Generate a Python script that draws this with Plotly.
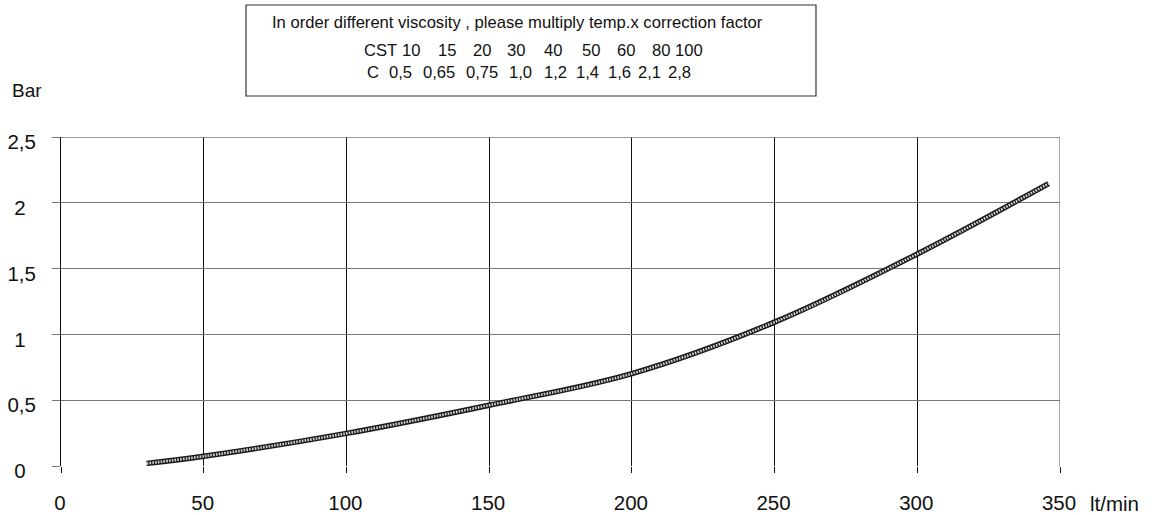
import plotly.graph_objects as go

# Pressure drop curve: flow (lt/min) vs pressure (bar)
flow = [30, 50, 100, 150, 200, 250, 300, 346]
pressure = [0.02, 0.074, 0.248, 0.462, 0.702, 1.093, 1.611, 2.146]

x_ticks = [0, 50, 100, 150, 200, 250, 300, 350]
x_tick_labels = ["0", "50", "100", "150", "200", "250", "300", "350"]
y_ticks = [0, 0.5, 1, 1.5, 2, 2.5]
y_tick_labels = ["0", "0,5", "1", "1,5", "2", "2,5"]

# Viscosity correction table
note_title = "In order different viscosity , please multiply temp.x correction factor"
cst_values = ["10", "15", "20", "30", "40", "50", "60", "80", "100"]
correction = ["0,5", "0,65", "0,75", "1,0", "1,2", "1,4", "1,6", "2,1", "2,8"]

# layout geometry (pixels)
W, H = 1152, 515
L, R, T, B = 61, 92, 137, 49
PW, PH = W - L - R, H - T - B
cst_px = [411, 447, 482, 516, 553, 591, 626, 661, 689]
corr_px = [400, 438.5, 481.5, 520, 555, 587, 619, 649, 679]


def px_x(p):
    return (p - L) / PW


def px_y(p):
    return (H - B - p) / PH


FONT = "Liberation Sans, Arial, sans-serif"

fig = go.Figure()

# hatched curve: dark outline with a light dashed core
fig.add_trace(go.Scatter(x=flow, y=pressure, mode="lines",
                         line=dict(color="#1a1a1a", width=5.5, shape="spline"),
                         hoverinfo="skip", showlegend=False))
fig.add_trace(go.Scatter(x=flow, y=pressure, mode="lines",
                         line=dict(color="#d4d4d4", width=2.6, shape="spline", dash="1.6px,1.2px"),
                         hoverinfo="skip", showlegend=False))

pad = "\u2002"
y_text = [t if "," in t else t + pad for t in y_tick_labels]

fig.update_xaxes(range=[0, 350], tickmode="array", tickvals=x_ticks, ticktext=x_tick_labels,
                 automargin=False,
                 showgrid=True, gridcolor="#111111", gridwidth=1,
                 ticks="outside", ticklen=6, tickcolor="#111111", tickwidth=1,
                 ticklabelstandoff=12, ticklabelshift=-1,
                 zeroline=False, showline=False,
                 tickfont=dict(family=FONT, size=20.5, color="#111111"))
fig.update_yaxes(range=[0, 2.5], tickmode="array", tickvals=y_ticks, ticktext=y_text,
                 automargin=False,
                 showgrid=True, gridcolor="#777777", gridwidth=1.3,
                 ticks="outside", ticklen=8, tickcolor="#777777", tickwidth=1.3,
                 ticklabelstandoff=12, ticklabelshift=5,
                 zeroline=False, showline=True, linecolor="#111111", linewidth=1,
                 tickfont=dict(family=FONT, size=20.5, color="#111111"))

shapes = [
    # right frame edge
    dict(type="line", xref="x", yref="paper", x0=350, x1=350, y0=0, y1=1,
         line=dict(color="#777777", width=1.3)),
    # top frame edge
    dict(type="line", xref="paper", yref="y", x0=0, x1=1, y0=2.5, y1=2.5,
         line=dict(color="#777777", width=1.3)),
    # correction-factor box
    dict(type="rect", xref="paper", yref="paper",
         x0=px_x(246), x1=px_x(816), y0=px_y(96), y1=px_y(5),
         line=dict(color="#333333", width=1.2), fillcolor="white"),
]

ann = []
note_font = dict(family=FONT, size=16.6, color="#111111")
ann.append(dict(text=note_title, xref="paper", yref="paper", x=px_x(517), y=px_y(22.7),
                xanchor="center", yanchor="middle", showarrow=False, font=note_font))
ann.append(dict(text="CST", xref="paper", yref="paper", x=px_x(362), y=px_y(50.5),
                xanchor="left", yanchor="middle", showarrow=False, font=note_font))
ann.append(dict(text="C", xref="paper", yref="paper", x=px_x(365), y=px_y(72.5),
                xanchor="left", yanchor="middle", showarrow=False, font=note_font))
for v, p in zip(cst_values, cst_px):
    ann.append(dict(text=v, xref="paper", yref="paper", x=px_x(p), y=px_y(50.5),
                    xanchor="center", yanchor="middle", showarrow=False, font=note_font))
for v, p in zip(correction, corr_px):
    ann.append(dict(text=v, xref="paper", yref="paper", x=px_x(p), y=px_y(72.5),
                    xanchor="center", yanchor="middle", showarrow=False, font=note_font))

# axis unit labels
ann.append(dict(text="Bar", xref="paper", yref="paper", x=px_x(10), y=px_y(91),
                xanchor="left", yanchor="middle", showarrow=False,
                font=dict(family=FONT, size=19, color="#111111")))
ann.append(dict(text="lt/min", xref="x", yref="paper", x=350, y=0, xshift=28, yshift=-37,
                xanchor="left", yanchor="middle", showarrow=False,
                font=dict(family=FONT, size=20.5, color="#111111")))

fig.update_layout(width=W, height=H, margin=dict(l=L, r=R, t=T, b=B),
                  paper_bgcolor="white", plot_bgcolor="white",
                  shapes=shapes, annotations=ann, showlegend=False)

fig.write_html("out.html")
